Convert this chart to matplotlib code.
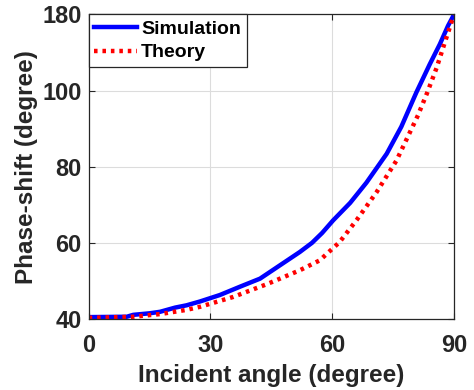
import numpy as np
import matplotlib
matplotlib.use('Agg')
import matplotlib.pyplot as plt

# simulated phase shift vs incident angle
sim_angle = [0, 9.4, 11.0, 15.0, 17.6, 21.3, 24.1, 27.4, 32.3, 37.3, 42.2,
             47.1, 52.0, 55.0, 57.5, 60.2, 64.4, 68.4, 73.4, 77.0, 80.7, 84.0,
             86.5, 88.5, 90]
sim_phase = [40.5, 40.6, 41.1, 41.5, 41.9, 43.0, 43.6, 44.6, 46.3, 48.5, 50.6,
             54.1, 57.6, 60.0, 62.6, 65.9, 70.5, 75.8, 83.4, 90.5, 99.5, 127.6,
             148.8, 168.0, 180]

# theoretical curve
th_angle = [0, 11.0, 17.6, 24.1, 27.4, 35.6, 44.0, 52.0, 56.9, 61.8, 66.0,
            70.9, 75.8, 79.5, 81.1, 83.4, 85.7, 87.7, 90]
th_phase = [40.3, 40.6, 41.3, 42.4, 43.2, 45.8, 49.2, 52.8, 55.4, 60.2, 66.0,
            73.3, 81.6, 89.9, 93.5, 99.5, 124.0, 150.4, 180]

yticks = [40, 60, 80, 100, 180]
xticks = [0, 30, 60, 90]

# axis squeezes everything above 100 into one grid step
def fwd(y):
    y = np.asarray(y, dtype=float)
    return np.where(y <= 100, y, 100 + (y - 100) / 4.0)

def inv(y):
    y = np.asarray(y, dtype=float)
    return np.where(y <= 100, y, 100 + (y - 100) * 4.0)

plt.rcParams['font.family'] = ['Liberation Sans', 'DejaVu Sans']
plt.rcParams['font.weight'] = 'bold'

fig = plt.figure(figsize=(4.74, 3.90), dpi=100)
ax = fig.add_axes([0.187, 0.182, 0.771, 0.781])

ax.plot(sim_angle, sim_phase, color='#0000ff', lw=3.2, label='Simulation')
ax.plot(th_angle, th_phase, color='#ff0000', lw=3.2, ls=(0, (0.8, 1.1)),
        label='Theory')

ax.set_yscale('function', functions=(fwd, inv))
ax.set_xlim(0, 90)
ax.set_ylim(40, 180)
ax.set_xticks(xticks)
ax.set_yticks(yticks)
ax.set_yticklabels([str(v) for v in yticks])
ax.minorticks_off()

ax.grid(True, color='#dcdcdc', lw=0.8)
ax.set_axisbelow(True)
ax.tick_params(direction='in', length=4, width=0.8, top=True, right=True,
               labelsize=17, colors='#262626')
ax.tick_params(axis='x', pad=11)
ax.tick_params(axis='y', pad=5)
for s in ax.spines.values():
    s.set_color('#262626')
    s.set_linewidth(0.9)

ax.set_xlabel('Incident angle (degree)', fontsize=17.5, fontweight='bold',
              color='#262626', labelpad=5)
ax.set_ylabel('Phase-shift (degree)', fontsize=17.5, fontweight='bold',
              color='#262626', labelpad=3)

leg = ax.legend(loc='upper left', borderaxespad=0, fontsize=14,
                handlelength=2.2, handletextpad=0.2, fancybox=False,
                framealpha=1, borderpad=0.3, labelspacing=0.3)
leg.get_frame().set_edgecolor('#262626')
leg.get_frame().set_linewidth(0.9)

fig.savefig('out.png', dpi=100)
